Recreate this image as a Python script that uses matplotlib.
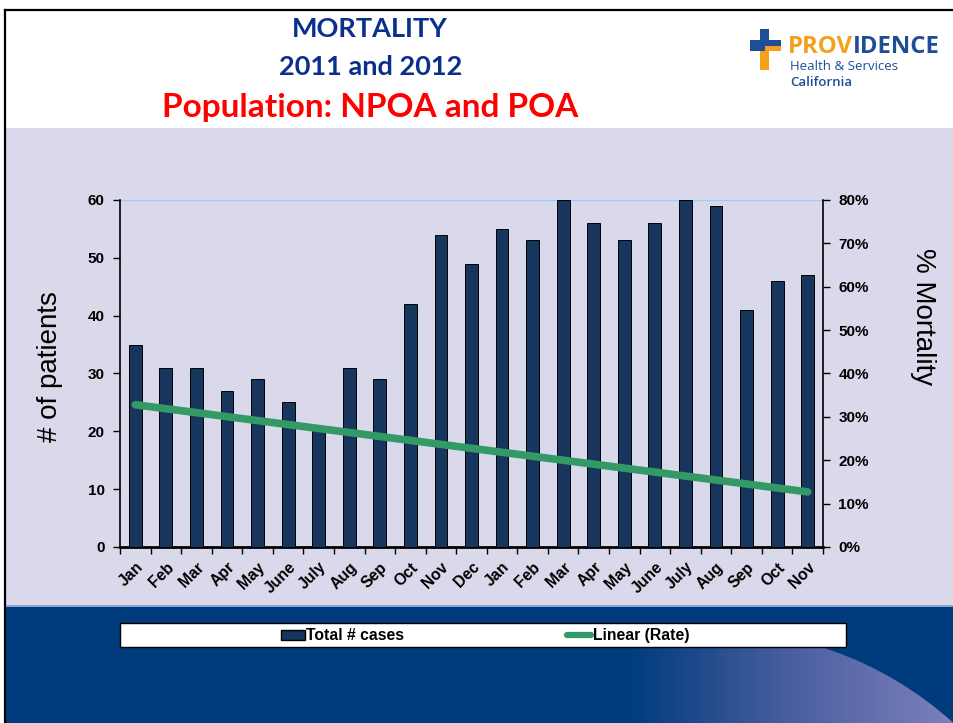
import matplotlib
matplotlib.use("Agg")
import matplotlib.pyplot as plt
import numpy as np
from matplotlib.patches import Rectangle, Circle
from matplotlib.lines import Line2D
from matplotlib.ticker import PercentFormatter, MultipleLocator
from matplotlib.colors import LinearSegmentedColormap

plt.rcParams['font.family'] = ['Liberation Sans', 'DejaVu Sans']

# data
months = ["Jan", "Feb", "Mar", "Apr", "May", "June", "July", "Aug", "Sep", "Oct", "Nov", "Dec",
          "Jan", "Feb", "Mar", "Apr", "May", "June", "July", "Aug", "Sep", "Oct", "Nov"]
total_cases = [35, 31, 31, 27, 29, 25, 20, 31, 29, 42, 54, 49,
               55, 53, 60, 56, 53, 56, 60, 59, 41, 46, 47]
# linear trendline of the mortality rate, first and last month
trend_rate = [0.328, 0.127]

BAR = "#17365d"
GREEN = "#339966"
TITLE_BLUE = "#0b2f8c"
LAVENDER = "#d9d9eb"
SLIDE_BLUE = "#003c7d"
LOGO_BLUE = "#1f4e99"
LOGO_ORANGE = "#f5a01a"
TITLE_FONT = ["Lato", "DejaVu Sans"]
LOGO_FONT = ["Open Sans", "DejaVu Sans"]

W, H = 954, 723
fig = plt.figure(figsize=(W / 100, H / 100), dpi=100, facecolor="white")

# slide background, drawn in pixel coordinates
bg = fig.add_axes([0, 0, 1, 1], zorder=0)
bg.axis("off")
bg.add_patch(Rectangle((5, 128), W, 478, color=LAVENDER, lw=0))
bg.add_patch(Rectangle((5, 605), W, 2, color="#8aa6d2", lw=0))
bg.add_patch(Rectangle((5, 607), W, H - 607, color=SLIDE_BLUE, lw=0))

# light swoosh in the bottom right corner
cmap = LinearSegmentedColormap.from_list("swoosh", [SLIDE_BLUE, "#4a5fa0", "#7d80bb"])
grad = np.linspace(0, 1, 256).reshape(1, -1)
img = bg.imshow(grad, cmap=cmap, extent=(630, W, H, 607), aspect="auto", zorder=1)
img.set_clip_path(Circle((712, 990), 360, transform=bg.transData))
bg.set_xlim(0, W)
bg.set_ylim(H, 0)

# slide frame
bg.plot([5, W], [10, 10], color="black", lw=1.6, zorder=5)
bg.plot([5, 5], [10, H], color="black", lw=1.6, zorder=5)

# titles
bg.text(370, 29, "MORTALITY", ha="center", va="center", color=TITLE_BLUE,
        fontsize=19.5, fontweight="bold", family=TITLE_FONT)
bg.text(371, 67, "2011 and 2012", ha="center", va="center", color=TITLE_BLUE,
        fontsize=19.5, fontweight="bold", family=TITLE_FONT)
bg.text(370, 108, "Population: NPOA and POA", ha="center", va="center", color="#ff0000",
        fontsize=24, fontweight="bold", family=TITLE_FONT)

# logo
bg.add_patch(Rectangle((760, 29), 9, 22, color=LOGO_BLUE, lw=0))
bg.add_patch(Rectangle((760, 51), 9, 19, color=LOGO_ORANGE, lw=0))
bg.add_patch(Rectangle((750, 40), 31, 6, color=LOGO_BLUE, lw=0))
bg.add_patch(Rectangle((765, 46), 16, 5, color=LOGO_ORANGE, lw=0))
bg.add_patch(Rectangle((750, 46), 10, 5, color=LOGO_BLUE, lw=0))
t = bg.text(788, 47, "PROV", ha="left", va="center", color=LOGO_ORANGE,
            fontsize=17.2, fontweight="bold", family=LOGO_FONT)
fig.canvas.draw()
bb = t.get_window_extent()
xd = bg.transData.inverted().transform((bb.x1, bb.y0))[0]
bg.text(xd, 47, "IDENCE", ha="left", va="center", color=LOGO_BLUE,
        fontsize=17.2, fontweight="bold", family=LOGO_FONT)
bg.text(790, 67, "Health & Services", ha="left", va="center", color=LOGO_BLUE,
        fontsize=9.5, family=LOGO_FONT)
bg.text(790, 83, "California", ha="left", va="center", color=LOGO_BLUE,
        fontsize=9.5, fontweight="semibold", family=LOGO_FONT)

# legend box
bg.add_patch(Rectangle((120, 623), 726, 24, facecolor="white", edgecolor="black", lw=1, zorder=3))
bg.add_patch(Rectangle((281, 630), 24, 10, facecolor=BAR, edgecolor="black", lw=1, zorder=4))
bg.add_artist(Line2D([567, 591], [635, 635], color=GREEN, lw=4.5, solid_capstyle="round", zorder=4))
bg.text(306, 635.5, "Total # cases", ha="left", va="center", fontsize=11.3,
        fontweight="bold", zorder=4)
bg.text(593, 635.5, "Linear (Rate)", ha="left", va="center", fontsize=11.3,
        fontweight="bold", zorder=4)

# chart
ax = fig.add_axes([120 / W, 1 - 547 / H, (823 - 120) / W, (547 - 200) / H], zorder=2)
ax.patch.set_alpha(0)
x = np.arange(len(months))
ax.bar(x, total_cases, width=0.42, color=BAR, edgecolor="black", linewidth=0.7, zorder=3)
ax.axhline(60, color="#99ccff", lw=1, zorder=1)
ax.set_xlim(-0.5, len(months) - 0.5)
ax.set_ylim(0, 60)
ax.yaxis.set_major_locator(MultipleLocator(10))
ax.set_xticks(x)
ax.set_xticklabels(months, rotation=45, ha="right", va="top", rotation_mode="anchor",
                   fontsize=11.3, fontweight="bold")
ax.tick_params(axis="x", which="major", length=0, pad=9)
ax.set_xticks(np.arange(len(months) + 1) - 0.5, minor=True)
ax.tick_params(axis="x", which="minor", length=5, width=1, direction="out")
ax.tick_params(axis="y", length=5, width=1, direction="out", pad=6, labelsize=11)
for lbl in ax.get_yticklabels():
    lbl.set_fontweight("bold")
for s in ["top", "right"]:
    ax.spines[s].set_visible(False)
ax.spines["left"].set_linewidth(1.2)
ax.spines["bottom"].set_linewidth(2)
ax.set_ylabel("# of patients", fontsize=20, va="center")
ax.yaxis.set_label_coords(-0.1, 0.52)

ax2 = ax.twinx()
ax2.set_ylim(0, 0.8)
ax2.yaxis.set_major_locator(MultipleLocator(0.1))
ax2.yaxis.set_major_formatter(PercentFormatter(1.0, decimals=0))
ax2.plot([x[0], x[-1]], trend_rate, color=GREEN, lw=5.5, solid_capstyle="round", zorder=4)
ax2.tick_params(axis="y", length=5, width=1, direction="out", pad=6, labelsize=11)
for lbl in ax2.get_yticklabels():
    lbl.set_fontweight("bold")
for s in ["top", "left", "bottom"]:
    ax2.spines[s].set_visible(False)
ax2.spines["right"].set_linewidth(1.2)
ax2.set_ylabel("% Mortality", fontsize=20, rotation=-90, va="center")
ax2.yaxis.set_label_coords(1.142, 0.665)

fig.savefig("out.png", dpi=100, facecolor="white")
